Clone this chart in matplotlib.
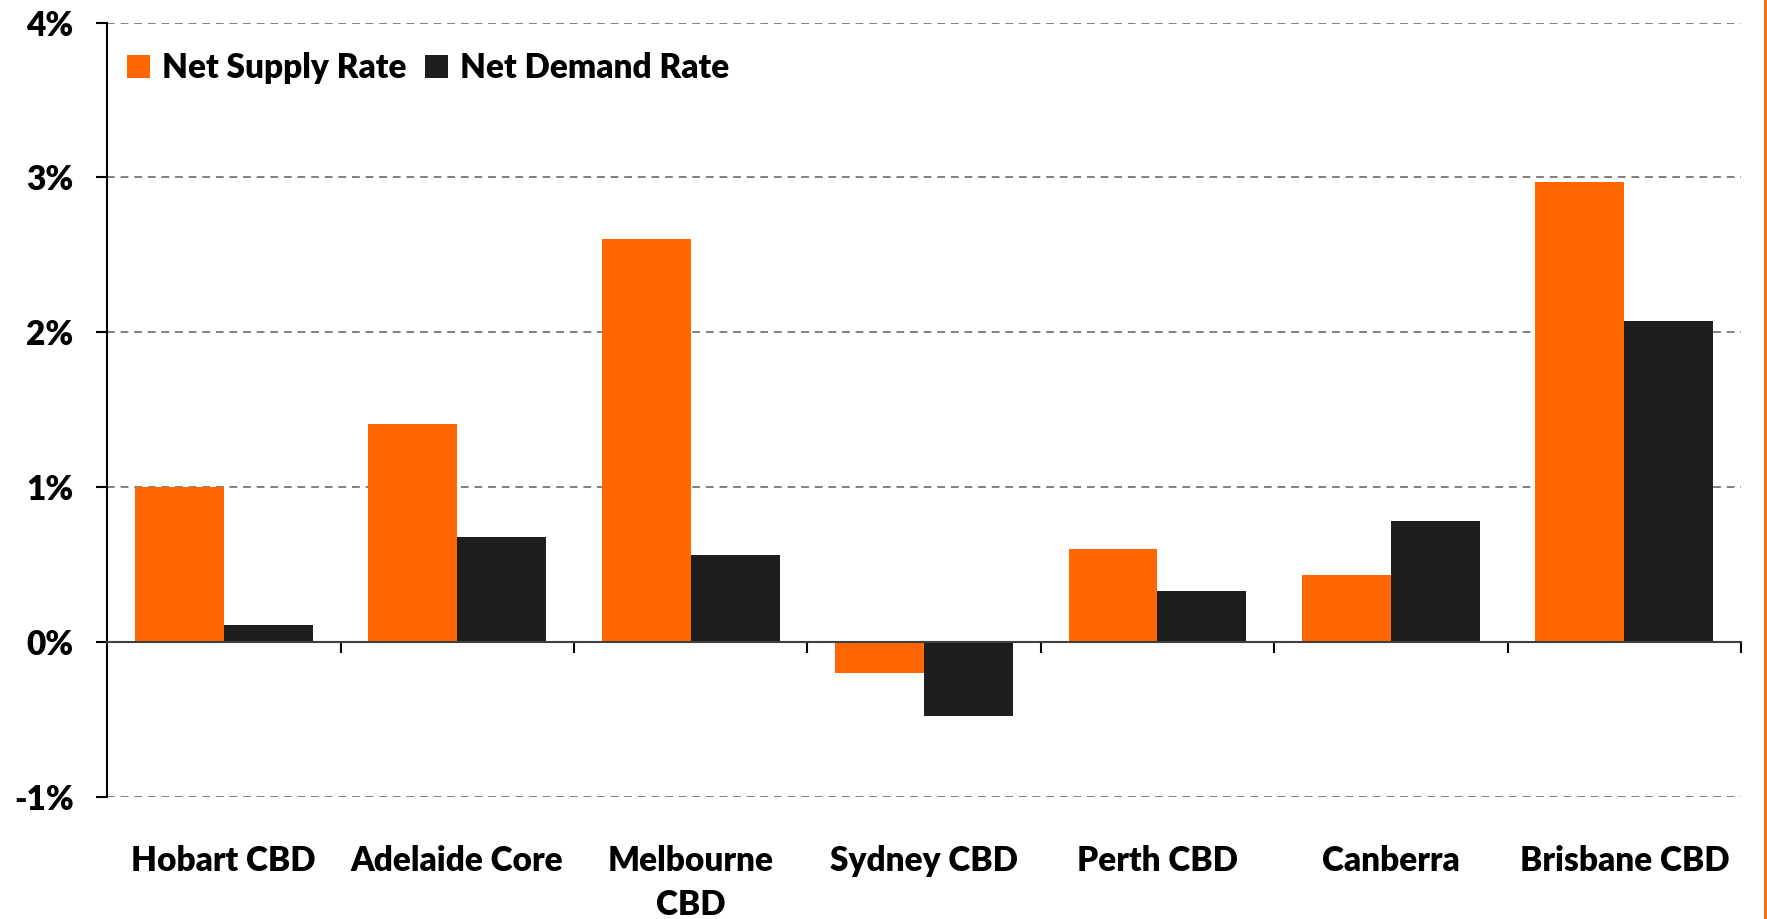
import numpy as np
import matplotlib
matplotlib.use("Agg")
import matplotlib.pyplot as plt
from matplotlib.lines import Line2D
from matplotlib.ticker import FuncFormatter

# data (percent)
cities = ["Hobart CBD", "Adelaide Core", "Melbourne\nCBD", "Sydney CBD",
          "Perth CBD", "Canberra", "Brisbane CBD"]
supply = [1.00, 1.41, 2.60, -0.20, 0.60, 0.43, 2.97]
demand = [0.11, 0.68, 0.56, -0.48, 0.33, 0.78, 2.07]
series_names = ["Net Supply Rate", "Net Demand Rate"]

orange = "#FF6600"
dark = "#1E1E1E"
W = 'heavy'

plt.rcParams['font.family'] = ['Lato', 'DejaVu Sans']
plt.rcParams['font.weight'] = W

fig = plt.figure(figsize=(17.67, 9.19), dpi=100)
ax = fig.add_axes([0.0606, 0.1328, 0.9247, 0.8427])

x = np.arange(len(cities))
w = 0.381
ax.bar(x - w/2, supply, w, color=orange, label=series_names[0], zorder=3)
ax.bar(x + w/2, demand, w, color=dark, label=series_names[1], zorder=3)

ax.set_xlim(-0.5, len(cities) - 0.5)
ax.set_ylim(-1, 4)
ax.set_yticks([-1, 0, 1, 2, 3, 4])
ax.yaxis.set_major_formatter(FuncFormatter(lambda v, p: f"{v:.0f}%"))
ax.grid(axis='y', color='#808080', linestyle=(0, (4, 3)), linewidth=1.4, zorder=0)

for s in ['top', 'right']:
    ax.spines[s].set_visible(False)
ax.spines['left'].set_linewidth(1.5)
ax.spines['bottom'].set_position(('data', 0))
ax.spines['bottom'].set_color('#404040')
ax.spines['bottom'].set_linewidth(1.5)
ax.spines['bottom'].set_zorder(4)

# boundary ticks on the zero line, category names as minor ticks far below
ax.set_xticks(np.arange(0.5, len(cities)), labels=[''] * len(cities))
ax.set_xticks(x, labels=cities, minor=True)
ax.tick_params(axis='x', which='major', direction='out', length=8, width=1.5)
ax.tick_params(axis='x', which='minor', length=0, pad=146, labelsize=24)
ax.tick_params(axis='y', direction='out', length=8, width=1.5, labelsize=24, pad=16)
for lab in ax.get_xticklabels(minor=True) + ax.get_yticklabels():
    lab.set_fontweight(W)
    lab.set_linespacing(1.45)

ax.legend(loc='upper left', bbox_to_anchor=(-0.002, 0.992), ncol=2, frameon=False,
          handlelength=0.7, handleheight=0.7, handletextpad=0.35,
          columnspacing=0.55, borderaxespad=0.3, prop={'weight': W, 'size': 24})

# thin orange frame edge at the right of the picture
fig.add_artist(Line2D([0.999, 0.999], [0, 1], color=orange, lw=2, transform=fig.transFigure))

fig.savefig("out.png", dpi=100)
